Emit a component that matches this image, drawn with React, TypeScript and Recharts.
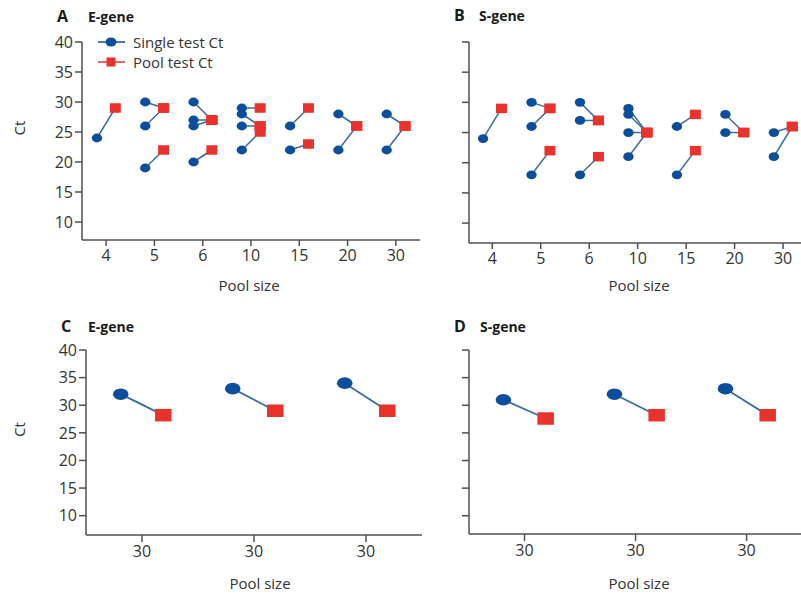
import React from "react";
import { ComposedChart, Line, Scatter, XAxis, YAxis, Legend } from "recharts";

// ─── Data ───────────────────────────────────────────────────────────────────

const topPoolSizes = [4, 5, 6, 10, 15, 20, 30];
const bottomPoolSizes = [30, 30, 30];
const ctTicks = [10, 15, 20, 25, 30, 35, 40];

// grouped by pool size: single[i][k] is joined to pool[i][k]
const eGeneSingle = [[24], [30, 26, 19], [30, 27, 26, 20], [29, 28, 26, 22], [26, 22], [28, 22], [28, 22]];
const eGenePool = [[29], [29, 29, 22], [27, 27, 27, 22], [29, 26, 26, 25], [29, 23], [26, 26], [26, 26]];

const sGeneSingle = [[24], [30, 26, 18], [30, 27, 18], [29, 28, 25, 21], [26, 18], [28, 25], [25, 21]];
const sGenePool = [[29], [29, 29, 22], [27, 27, 21], [25, 25, 25, 25], [28, 22], [25, 25], [26, 26]];

const eGene30Single = [[32], [33], [34]];
const eGene30Pool = [[28.2], [29], [29]];
const sGene30Single = [[31], [32], [33]];
const sGene30Pool = [[27.6], [28.2], [28.2]];

// ─── Styles ─────────────────────────────────────────────────────────────────

const BLUE = "#0b4e9b";
const RED = "#e8322b";
const LINK = "#3b6ca2";
const AXIS = "#505050";
const TEXT = "#333";
const FONT = "'Open Sans', sans-serif";
const OFF = 0.19;

type Marker = { rx: number; ry: number; sw: number; sh: number; lw: number };

const smallMarker: Marker = { rx: 5.2, ry: 4.4, sw: 11, sh: 9.5, lw: 1.5 };
const bigMarker: Marker = { rx: 7.8, ry: 5.8, sw: 16.5, sh: 12.5, lw: 1.8 };

function LegendBox() {
  return (
    <svg width={140} height={42} style={{ display: "block", overflow: "visible" }}>
      <line x1={0} x2={27} y1={10} y2={10} stroke={BLUE} strokeWidth={1.5} />
      <ellipse cx={13} cy={10} rx={5.5} ry={4.5} fill={BLUE} />
      <text x={35} y={10} dominantBaseline="central" fontSize={15} fill={TEXT} fontFamily={FONT}>
        Single test Ct
      </text>
      <line x1={0} x2={27} y1={30} y2={30} stroke={RED} strokeWidth={1.5} />
      <rect x={8.5} y={25.5} width={9} height={9} fill={RED} />
      <text x={35} y={30} dominantBaseline="central" fontSize={15} fill={TEXT} fontFamily={FONT}>
        Pool test Ct
      </text>
    </svg>
  );
}

interface PanelProps {
  left: number;
  top: number;
  width: number;
  height: number;
  margin: { top: number; right: number; bottom: number; left: number };
  yAxisWidth: number;
  xAxisHeight: number;
  xDomain: [number, number];
  yDomain: [number, number];
  sizes: number[];
  single: number[][];
  pool: number[][];
  marker: Marker;
  showYLabels: boolean;
  showLegend?: boolean;
  xLabelDx: number;
  xLabelDy: number;
  xTickSize: number;
}

function Panel(p: PanelProps) {
  const pairs: { i: number; s: number; v: number }[] = [];
  p.single.forEach((group, i) =>
    group.forEach((s, k) => pairs.push({ i, s, v: p.pool[i][k] }))
  );
  const singlePts = pairs.map((d) => ({ x: d.i - OFF, y: d.s }));
  const poolPts = pairs.map((d) => ({ x: d.i + OFF, y: d.v }));
  const m = p.marker;

  return (
    <div style={{ position: "absolute", left: p.left, top: p.top }}>
      <ComposedChart width={p.width} height={p.height} margin={p.margin}>
        <XAxis
          type="number"
          dataKey="x"
          domain={p.xDomain}
          ticks={p.sizes.map((_, i) => i)}
          tickFormatter={(i: number) => String(p.sizes[i])}
          allowDataOverflow
          height={p.xAxisHeight}
          stroke={AXIS}
          strokeWidth={1.5}
          tickSize={p.xTickSize}
          tickMargin={4}
          tick={{ fontSize: 16, fill: TEXT, fontFamily: FONT }}
          label={(lp: any) => {
            const vb = lp.viewBox;
            return (
              <text
                x={vb.x + vb.width / 2 + p.xLabelDx}
                y={vb.y + p.xLabelDy}
                textAnchor="middle"
                dominantBaseline="central"
                fontSize={15}
                fill={TEXT}
                fontFamily={FONT}
              >
                Pool size
              </text>
            );
          }}
        />
        <YAxis
          type="number"
          dataKey="y"
          domain={p.yDomain}
          ticks={ctTicks}
          allowDataOverflow
          width={p.yAxisWidth}
          stroke={AXIS}
          strokeWidth={1.5}
          tickSize={7}
          tickFormatter={(v: number) => (p.showYLabels ? String(v) : "")}
          tick={{ fontSize: 16, fill: TEXT, fontFamily: FONT }}
          label={
            p.showYLabels
              ? (lp: any) => {
                  const vb = lp.viewBox;
                  const x = vb.x + 1;
                  const y = vb.y + vb.height / 2 - 13;
                  return (
                    <text
                      x={x}
                      y={y}
                      transform={`rotate(-90, ${x}, ${y})`}
                      textAnchor="middle"
                      dominantBaseline="central"
                      fontSize={15}
                      fill={TEXT}
                      fontFamily={FONT}
                    >
                      Ct
                    </text>
                  );
                }
              : undefined
          }
        />
        {p.showLegend && (
          <Legend
            layout="horizontal"
            verticalAlign="middle"
            align="center"
            wrapperStyle={{ left: 98, top: 32, width: 140, height: 42 }}
            content={() => <LegendBox />}
          />
        )}
        {pairs.map((d, k) => (
          <Line
            key={k}
            data={[
              { x: d.i - OFF, y: d.s },
              { x: d.i + OFF, y: d.v },
            ]}
            dataKey="y"
            type="linear"
            stroke={LINK}
            strokeWidth={m.lw}
            dot={false}
            activeDot={false}
            legendType="none"
            isAnimationActive={false}
          />
        ))}
        <Scatter
          data={singlePts}
          isAnimationActive={false}
          legendType="none"
          shape={(sp: any) => <ellipse cx={sp.cx} cy={sp.cy} rx={m.rx} ry={m.ry} fill={BLUE} />}
        />
        <Scatter
          data={poolPts}
          isAnimationActive={false}
          legendType="none"
          shape={(sp: any) => (
            <rect x={sp.cx - m.sw / 2} y={sp.cy - m.sh / 2} width={m.sw} height={m.sh} fill={RED} />
          )}
        />
      </ComposedChart>
    </div>
  );
}

function Titles() {
  const items = [
    { x: 57, y: 21.5, letter: "A", gene: "E-gene", gx: 88 },
    { x: 454, y: 21, letter: "B", gene: "S-gene", gx: 479 },
    { x: 61, y: 331.5, letter: "C", gene: "E-gene", gx: 88 },
    { x: 454, y: 332, letter: "D", gene: "S-gene", gx: 480 },
  ];
  return (
    <svg
      width={801}
      height={597}
      style={{ position: "absolute", left: 0, top: 0, pointerEvents: "none" }}
    >
      {items.map((t) => (
        <g key={t.letter} fontFamily={FONT} fontWeight={700} fill="#1a1a1a">
          <text x={t.x} y={t.y} fontSize={16}>
            {t.letter}
          </text>
          <text x={t.gx} y={t.y} fontSize={14}>
            {t.gene}
          </text>
        </g>
      ))}
    </svg>
  );
}

export default function App() {
  return (
    <div
      style={{
        position: "absolute",
        left: 0,
        top: 0,
        width: 801,
        height: 597,
        overflow: "hidden",
        background: "#fff",
        fontFamily: FONT,
      }}
    >
      <Panel
        left={0}
        top={0}
        width={430}
        height={300}
        margin={{ top: 42, right: 10, bottom: 0, left: 18 }}
        yAxisWidth={64}
        xAxisHeight={60}
        xDomain={[-0.5, 6.5]}
        yDomain={[7, 40]}
        sizes={topPoolSizes}
        single={eGeneSingle}
        pool={eGenePool}
        marker={smallMarker}
        showYLabels
        showLegend
        xLabelDx={-2}
        xLabelDy={45}
        xTickSize={6}
      />
      <Panel
        left={400}
        top={0}
        width={401}
        height={300}
        margin={{ top: 42, right: 0, bottom: 0, left: 29 }}
        yAxisWidth={40}
        xAxisHeight={57}
        xDomain={[-0.48, 6.37]}
        yDomain={[6.7, 40]}
        sizes={topPoolSizes}
        single={sGeneSingle}
        pool={sGenePool}
        marker={smallMarker}
        showYLabels={false}
        xLabelDx={4}
        xLabelDy={42}
        xTickSize={6}
      />
      <Panel
        left={0}
        top={300}
        width={430}
        height={297}
        margin={{ top: 50, right: 8, bottom: 0, left: 18 }}
        yAxisWidth={68}
        xAxisHeight={62}
        xDomain={[-0.5, 2.5]}
        yDomain={[6.5, 40]}
        sizes={bottomPoolSizes}
        single={eGene30Single}
        pool={eGene30Pool}
        marker={bigMarker}
        showYLabels
        xLabelDx={6}
        xLabelDy={48}
        xTickSize={7}
      />
      <Panel
        left={400}
        top={300}
        width={401}
        height={297}
        margin={{ top: 50, right: 0, bottom: 0, left: 29 }}
        yAxisWidth={40}
        xAxisHeight={63}
        xDomain={[-0.5, 2.49]}
        yDomain={[6.7, 40]}
        sizes={bottomPoolSizes}
        single={sGene30Single}
        pool={sGene30Pool}
        marker={bigMarker}
        showYLabels={false}
        xLabelDx={4}
        xLabelDy={49}
        xTickSize={7}
      />
      <Titles />
    </div>
  );
}
